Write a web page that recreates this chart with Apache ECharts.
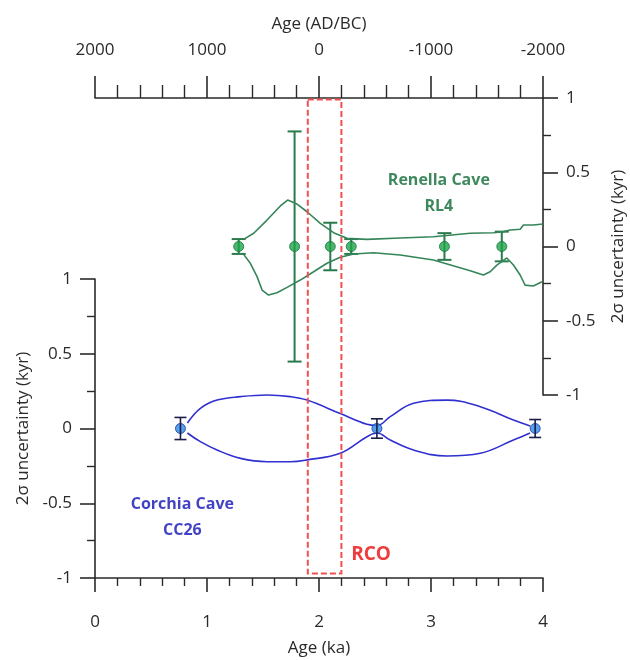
<!DOCTYPE html>
<html>
<head>
<meta charset="utf-8">
<script src="https://cdn.jsdelivr.net/npm/echarts@6/dist/echarts.min.js"></script>
<style>
html,body{margin:0;padding:0;background:#fff;}
#chart{width:630px;height:660px;}
</style>
</head>
<body>
<div id="chart"></div>
<script>
// ---------- Data ----------
// Corchia Cave CC26 (bottom-left axes: Age ka vs 2σ uncertainty kyr)
const ccAge = [0.763, 2.517, 3.93];
const ccVal = [0, 0, 0];
const ccErr = [0.074, 0.065, 0.06];
const ccUpperAge = [0.825, 0.941, 1.09, 1.30, 1.536, 1.744, 1.893, 2.19, 2.428, 2.517, 2.636, 2.844, 3.14, 3.44, 3.736, 3.885];
const ccUpperVal = [0.037, 0.135, 0.19, 0.213, 0.224, 0.213, 0.19, 0.10, 0.028, 0.02, 0.079, 0.169, 0.19, 0.146, 0.057, 0.017];
const ccLowerAge = [0.825, 0.941, 1.09, 1.30, 1.536, 1.744, 1.893, 2.19, 2.428, 2.517, 2.636, 2.844, 3.14, 3.44, 3.736, 3.885];
const ccLowerVal = [-0.03, -0.088, -0.144, -0.2, -0.222, -0.222, -0.21, -0.166, -0.055, -0.03, -0.077, -0.144, -0.184, -0.166, -0.077, -0.03];

// Renella Cave RL4 (top-right axes)
const rlAge = [1.283, 1.782, 2.101, 2.288, 3.12, 3.632];
const rlVal = [0, 0, 0, 0, 0, 0];
const rlErr = [0.05, 0.775, 0.16, 0.05, 0.09, 0.10];
const rlUpperAge = [1.327, 1.417, 1.536, 1.655, 1.72, 1.804, 1.893, 2.012, 2.13, 2.25, 2.428, 2.725, 3.022, 3.35, 3.558, 3.647, 3.707, 3.796, 3.825, 3.914, 4.0];
const rlUpperVal = [0.048, 0.089, 0.178, 0.273, 0.313, 0.286, 0.234, 0.156, 0.093, 0.055, 0.048, 0.057, 0.066, 0.089, 0.093, 0.10, 0.111, 0.116, 0.145, 0.145, 0.152];
const rlLowerAge = [1.327, 1.387, 1.447, 1.492, 1.55, 1.625, 1.715, 1.833, 1.952, 2.071, 2.19, 2.309, 2.487, 2.725, 3.022, 3.35, 3.468, 3.528, 3.588, 3.632, 3.677, 3.736, 3.796, 3.84, 3.914, 3.99];
const rlLowerVal = [-0.053, -0.113, -0.203, -0.293, -0.327, -0.311, -0.275, -0.226, -0.17, -0.113, -0.073, -0.05, -0.042, -0.057, -0.091, -0.163, -0.192, -0.17, -0.125, -0.102, -0.077, -0.125, -0.192, -0.26, -0.266, -0.237];

// RCO window (ka) and its vertical extent (left-axis units)
const rcoRange = [1.9, 2.2];
const rcoVertical = [-0.97, 2.2];

// Axis ranges / ticks
const kaAxis = [0, 4, 1];
const adAxis = [-2000, 2000, 1000];
const uncAxis = [-1, 1, 0.5];

// ---------- Helpers ----------
const zip = (a, b) => a.map((v, i) => [v, b[i]]);
const zip3 = (a, b, c) => a.map((v, i) => [v, b[i], c[i]]);

const FONT = 'Open Sans';
const TXT = '#2a2a2a';
const AX = '#2a2a2a';

function errRender(color, capHalf, lw) {
  return function (params, api) {
    const x = api.value(0), y = api.value(1), e = api.value(2);
    const t = api.coord([x, y + e]), b = api.coord([x, y - e]);
    const st = { stroke: color, lineWidth: lw };
    return {
      type: 'group',
      children: [
        { type: 'line', shape: { x1: t[0], y1: t[1], x2: b[0], y2: b[1] }, style: st },
        { type: 'line', shape: { x1: t[0] - capHalf, y1: t[1], x2: t[0] + capHalf, y2: t[1] }, style: st },
        { type: 'line', shape: { x1: b[0] - capHalf, y1: b[1], x2: b[0] + capHalf, y2: b[1] }, style: st }
      ]
    };
  };
}

function axisCommon(tickLen, minorLen, minorSplit, labelMargin) {
  return {
    axisLine: { show: true, onZero: false, lineStyle: { color: AX, width: 1.6 } },
    axisTick: { show: true, inside: false, length: tickLen, lineStyle: { color: AX, width: 1.6 } },
    minorTick: { show: true, splitNumber: minorSplit, length: minorLen, lineStyle: { color: AX, width: 1.4 } },
    splitLine: { show: false },
    minorSplitLine: { show: false },
    axisLabel: { margin: labelMargin, fontFamily: FONT, fontSize: 17, color: TXT, formatter: v => String(v) },
    nameTextStyle: { fontFamily: FONT, fontSize: 17, color: TXT }
  };
}

function annot(text, color, size) {
  return {
    show: true, position: 'inside', formatter: text, fontFamily: FONT, fontSize: size,
    fontWeight: 'bold', color: color, lineHeight: 26, align: 'center',
    textBorderWidth: 0, textBorderColor: 'transparent'
  };
}

const chart = echarts.init(document.getElementById('chart'), null, { renderer: 'canvas' });

const option = {
  animation: false,
  backgroundColor: '#fff',
  grid: [
    { left: 95, right: 87, top: 279, bottom: 82, containLabel: false, outerBoundsMode: 'none' },
    { left: 95, right: 87, top: 98, bottom: 265, containLabel: false, outerBoundsMode: 'none' }
  ],
  xAxis: [
    Object.assign(axisCommon(14, 8, 5, 36), {
      type: 'value', gridIndex: 0, position: 'bottom',
      min: kaAxis[0], max: kaAxis[1], interval: kaAxis[2],
      name: 'Age (ka)', nameLocation: 'middle', nameGap: 62
    }),
    Object.assign(axisCommon(22, 13, 5, 39), {
      type: 'value', gridIndex: 1, position: 'top', inverse: true,
      min: adAxis[0], max: adAxis[1], interval: adAxis[2],
      name: 'Age (AD/BC)', nameLocation: 'middle', nameGap: 65
    }),
    {
      type: 'value', gridIndex: 1, position: 'bottom', show: false,
      min: kaAxis[0], max: kaAxis[1]
    }
  ],
  yAxis: [
    Object.assign(axisCommon(15, 8, 2, 23), {
      type: 'value', gridIndex: 0, position: 'left',
      min: uncAxis[0], max: uncAxis[1], interval: uncAxis[2],
      name: '2σ uncertainty (kyr)', nameLocation: 'middle', nameGap: 63
    }),
    Object.assign(axisCommon(15, 8, 2, 23), {
      type: 'value', gridIndex: 1, position: 'right',
      min: uncAxis[0], max: uncAxis[1], interval: uncAxis[2],
      name: '2σ uncertainty (kyr)', nameLocation: 'middle', nameGap: 67
    })
  ],
  series: [
    // Corchia envelope
    { type: 'line', xAxisIndex: 0, yAxisIndex: 0, data: zip(ccUpperAge, ccUpperVal), smooth: 0.4, symbol: 'none',
      lineStyle: { color: '#3030d0', width: 1.6 } },
    { type: 'line', xAxisIndex: 0, yAxisIndex: 0, data: zip(ccLowerAge, ccLowerVal), smooth: 0.4, symbol: 'none',
      lineStyle: { color: '#3030d0', width: 1.6 } },
    // Renella envelope
    { type: 'line', xAxisIndex: 2, yAxisIndex: 1, data: zip(rlUpperAge, rlUpperVal), symbol: 'none',
      lineStyle: { color: '#35855a', width: 1.6 } },
    { type: 'line', xAxisIndex: 2, yAxisIndex: 1, data: zip(rlLowerAge, rlLowerVal), symbol: 'none',
      lineStyle: { color: '#35855a', width: 1.6 } },
    // Error bars
    { type: 'custom', xAxisIndex: 2, yAxisIndex: 1, data: zip3(rlAge, rlVal, rlErr),
      renderItem: errRender('#2a7a4c', 7, 2), z: 3 },
    { type: 'custom', xAxisIndex: 0, yAxisIndex: 0, data: zip3(ccAge, ccVal, ccErr),
      renderItem: errRender('#1c1c48', 6, 1.6), z: 5 },
    // Points
    { type: 'scatter', xAxisIndex: 2, yAxisIndex: 1, data: zip(rlAge, rlVal), symbol: 'circle', symbolSize: 10,
      itemStyle: { color: '#1fa34a', borderColor: '#17783a', borderWidth: 1 }, z: 4 },
    { type: 'scatter', xAxisIndex: 0, yAxisIndex: 0, data: zip(ccAge, ccVal), symbol: 'circle', symbolSize: 10,
      itemStyle: { color: '#2a8ae8', borderColor: '#1a3a9a', borderWidth: 1 }, z: 4 },
    // RCO window
    { type: 'custom', xAxisIndex: 0, yAxisIndex: 0, data: [[rcoRange[0], rcoRange[1], rcoVertical[0], rcoVertical[1]]],
      renderItem: function (params, api) {
        const p1 = api.coord([api.value(0), api.value(3)]);
        const p2 = api.coord([api.value(1), api.value(2)]);
        return { type: 'rect', shape: { x: p1[0], y: p1[1], width: p2[0] - p1[0], height: p2[1] - p1[1] },
          style: { fill: 'none', stroke: '#f25050', lineWidth: 2, lineDash: [6, 3] } };
      }, z: 6 },
    // Annotations
    { type: 'scatter', xAxisIndex: 2, yAxisIndex: 1, data: [[3.07, 0.36]], symbolSize: 1,
      itemStyle: { color: 'rgba(0,0,0,0)' }, silent: true, z: 7,
      label: annot('Renella Cave\nRL4', '#0e6a34', 16) },
    { type: 'scatter', xAxisIndex: 0, yAxisIndex: 0, data: [[0.78, -0.595]], symbolSize: 1,
      itemStyle: { color: 'rgba(0,0,0,0)' }, silent: true, z: 7,
      label: annot('Corchia Cave\nCC26', '#1212b8', 16) },
    { type: 'scatter', xAxisIndex: 0, yAxisIndex: 0, data: [[2.465, -0.846]], symbolSize: 1,
      itemStyle: { color: 'rgba(0,0,0,0)' }, silent: true, z: 7,
      label: annot('RCO', '#e80c0c', 19) }
  ]
};
chart.setOption(option);
</script>
</body>
</html>
